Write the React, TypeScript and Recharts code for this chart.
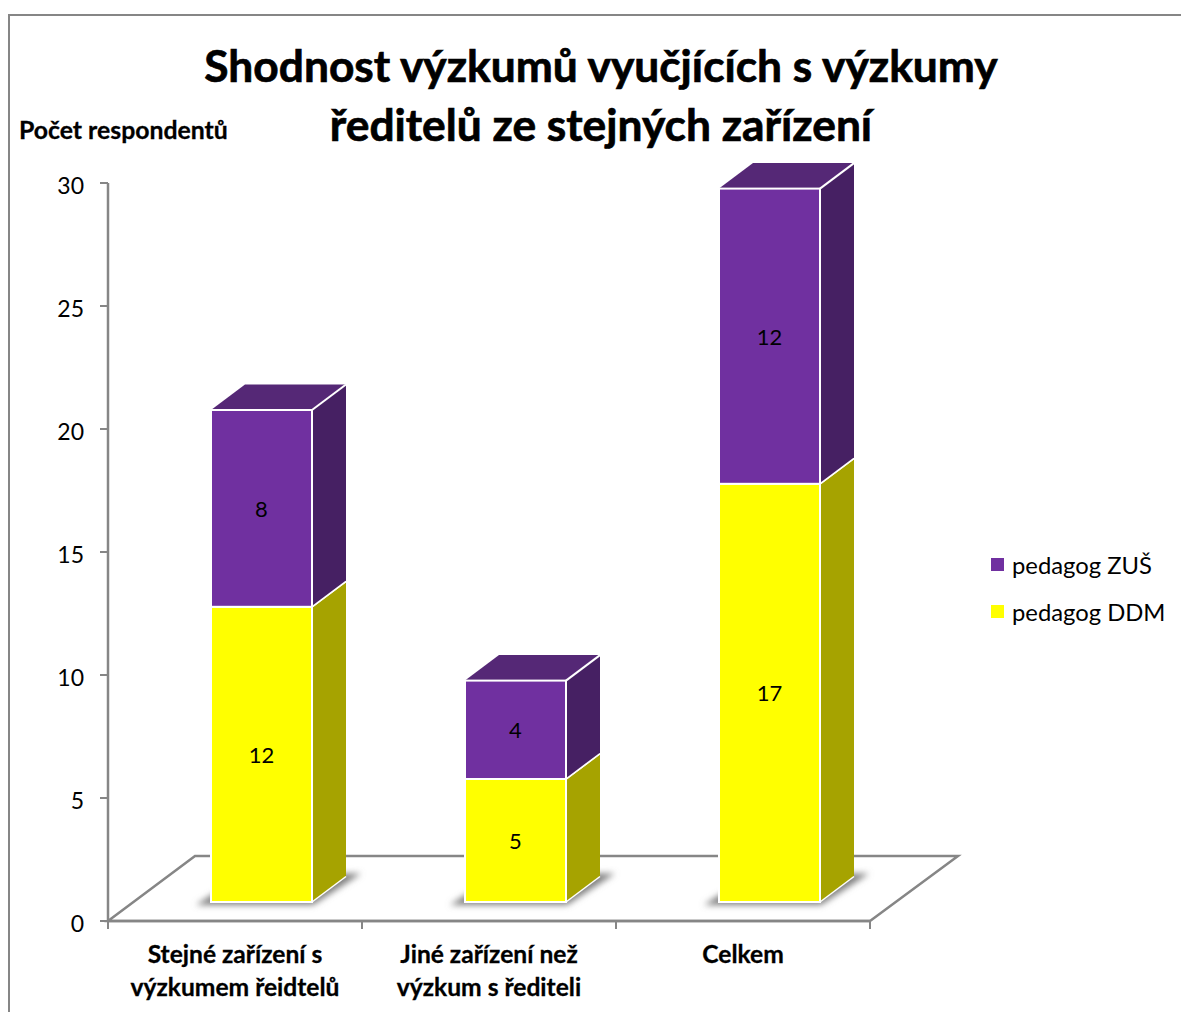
import React from "react";
import { BarChart, Bar, XAxis, YAxis, Legend, LabelList, Customized } from "recharts";

const categories = ["Stejné zařízení s výzkumem řeidtelů", "Jiné zařízení než výzkum s řediteli", "Celkem"];
const categoryLines = [["Stejné zařízení s", "výzkumem řeidtelů"], ["Jiné zařízení než", "výzkum s řediteli"], ["Celkem"]];
const pedagogDDM = [12, 5, 17];
const pedagogZUS = [8, 4, 12];
const yTicks = [0, 5, 10, 15, 20, 25, 30];
const titleLines = ["Shodnost výzkumů vyučjících s výzkumy", "ředitelů ze stejných zařízení"];
const yAxisTitle = "Počet respondentů";

const data = categories.map((name, i) => ({ name, i, ddm: pedagogDDM[i], zus: pedagogZUS[i] }));

const FONT = "Lato, 'Open Sans', sans-serif";
const AXIS = "#868686";
const SHIFT_X = 26;
const SHIFT_Y = -19;
const DX = 34;
const DY = -25.5;
const BAND = 254;

const Box = ({ x, y, width, height, front, side, top, shadow }: any) => {
  const l = x + SHIFT_X;
  const r = l + width;
  const t = y + SHIFT_Y;
  const b = t + height;
  return (
    <g>
      {shadow && (
        <polygon
          points={`${l - 15},${b + 3} ${l + 2},${b - 8} ${r + DX - 4},${b + DY - 3} ${r + DX + 15},${b + DY - 3} ${r + 1},${b + 3}`}
          fill="#808080"
          filter="url(#softShadow)"
        />
      )}
      <polygon points={`${r},${t} ${r + DX},${t + DY} ${r + DX},${b + DY} ${r},${b}`} fill={side} />
      <polygon points={`${l},${t} ${l + DX},${t + DY} ${r + DX},${t + DY} ${r},${t}`} fill={top} />
      <line x1={r} y1={b} x2={r + DX} y2={b + DY} stroke="#ffffff" strokeWidth={1.5} />
      <line x1={r} y1={t} x2={r + DX} y2={t + DY} stroke="#ffffff" strokeWidth={2} />
      <rect x={l} y={t} width={width} height={height} fill={front} stroke="#ffffff" strokeWidth={2} />
    </g>
  );
};

const DdmShape = (p: any) => <Box {...p} front="#FFFF00" side="#A6A300" top="#C4C100" shadow />;
const ZusShape = (p: any) => <Box {...p} front="#7030A0" side="#462063" top="#552876" />;

const CenterLabel = ({ x, y, width, height, value }: any) => (
  <text
    x={x + SHIFT_X + width / 2}
    y={y + SHIFT_Y + height / 2}
    textAnchor="middle"
    dominantBaseline="central"
    fontFamily={FONT}
    fontSize={22}
    fill="#000"
  >
    {value}
  </text>
);

const CategoryTick = ({ x, y, payload, index }: any) => {
  const lines = categoryLines[payload?.index ?? index] ?? [];
  const left = x - BAND / 2;
  const right = x + BAND / 2;
  return (
    <g>
      <line x1={left} y1={921} x2={left} y2={929} stroke={AXIS} strokeWidth={2} />
      <line x1={right} y1={921} x2={right} y2={929} stroke={AXIS} strokeWidth={2} />
      {lines.map((line, i) => (
        <text
          key={line}
          x={x}
          y={963 + i * 33}
          textAnchor="middle"
          fontFamily={FONT}
          fontWeight={700}
          fontSize={24.6}
          stroke="#000"
          strokeWidth={0.3}
          fill="#000"
        >
          {line}
        </text>
      ))}
    </g>
  );
};

const Backdrop = () => (
  <g>
    <defs>
      <filter id="softShadow" x="-20%" y="-50%" width="140%" height="200%">
        <feGaussianBlur stdDeviation="3" />
      </filter>
    </defs>
    <polyline points="9,1012 9,15 1181,15" fill="none" stroke={AXIS} strokeWidth={2} />
    <polygon points="108,921 195,856 958,856 870,921" fill="none" stroke={AXIS} strokeWidth={2.5} />
  </g>
);

const Texts = () => (
  <g>
    {titleLines.map((line, i) => (
      <text
        key={line}
        x={601}
        y={82 + i * 59}
        textAnchor="middle"
        fontFamily={FONT}
        fontWeight={700}
        fontSize={44.3}
        stroke="#000"
        strokeWidth={0.7}
        fill="#000"
      >
        {line}
      </text>
    ))}
    <text x={19} y={139} fontFamily={FONT} fontWeight={700} fontSize={24.8} stroke="#000" strokeWidth={0.3} fill="#000">
      {yAxisTitle}
    </text>
  </g>
);

const LegendBox = ({ payload }: any) => (
  <div style={{ fontFamily: FONT, fontSize: 23.8, color: "#000" }}>
    {[...(payload ?? [])].reverse().map((item: any) => (
      <div key={item.value} style={{ display: "flex", alignItems: "center", height: 47 }}>
        <span style={{ width: 13, height: 13, background: item.color, display: "inline-block", marginRight: 8 }} />
        <span>{item.value}</span>
      </div>
    ))}
  </div>
);

export default function App() {
  return (
    <div style={{ position: "absolute", left: 0, top: 0, width: 1181, height: 1012, overflow: "hidden", background: "#fff" }}>
      <BarChart
        width={1181}
        height={1012}
        data={data}
        barSize={101}
        margin={{ top: 183, right: 311, bottom: 31, left: 48 }}
      >
        <Customized component={<Backdrop />} />
        <XAxis
          dataKey="name"
          height={60}
          interval={0}
          axisLine={{ stroke: AXIS, strokeWidth: 2.5 }}
          tickLine={false}
          tick={<CategoryTick />}
        />
        <YAxis
          width={60}
          domain={[0, 30]}
          ticks={yTicks}
          interval={0}
          axisLine={{ stroke: AXIS, strokeWidth: 2.5 }}
          tickLine={{ stroke: AXIS, strokeWidth: 2 }}
          tickSize={8}
          tickMargin={16}
          tick={{ fontFamily: FONT, fontSize: 23, fill: "#000", dy: 3 }}
        />
        <Legend
          layout="vertical"
          align="center"
          verticalAlign="middle"
          content={<LegendBox />}
          wrapperStyle={{ position: "absolute", left: 991, top: 541, width: 190, height: 94 }}
        />
        <Bar dataKey="ddm" name="pedagog DDM" stackId="a" fill="#FFFF00" shape={DdmShape} isAnimationActive={false}>
          <LabelList dataKey="ddm" content={<CenterLabel />} />
        </Bar>
        <Bar dataKey="zus" name="pedagog ZUŠ" stackId="a" fill="#7030A0" shape={ZusShape} isAnimationActive={false}>
          <LabelList dataKey="zus" content={<CenterLabel />} />
        </Bar>
        <Customized component={<Texts />} />
      </BarChart>
    </div>
  );
}
